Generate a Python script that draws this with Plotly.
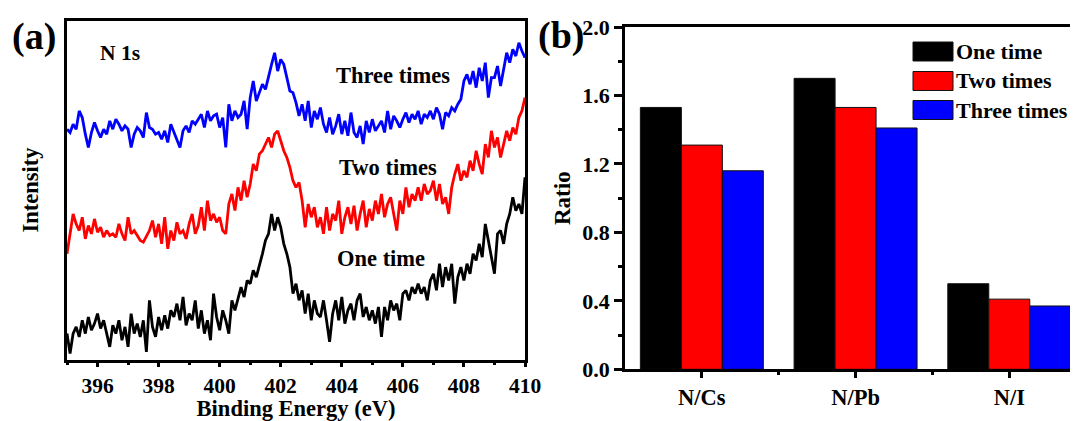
import plotly.graph_objects as go

# ---------------- Panel (a): N 1s XPS spectra ----------------
energy = [
    395.0, 395.1, 395.2, 395.3, 395.4, 395.5, 395.6, 395.7, 395.8, 395.9,
    396.0, 396.1, 396.2, 396.3, 396.4, 396.5, 396.6, 396.7, 396.8, 396.9,
    397.0, 397.1, 397.2, 397.3, 397.4, 397.5, 397.6, 397.7, 397.8, 397.9,
    398.0, 398.1, 398.2, 398.3, 398.4, 398.5, 398.6, 398.7, 398.8, 398.9,
    399.0, 399.1, 399.2, 399.3, 399.4, 399.5, 399.6, 399.7, 399.8, 399.9,
    400.0, 400.1, 400.2, 400.3, 400.4, 400.5, 400.6, 400.7, 400.8, 400.9,
    401.0, 401.1, 401.2, 401.3, 401.4, 401.5, 401.6, 401.7, 401.8, 401.9,
    402.0, 402.1, 402.2, 402.3, 402.4, 402.5, 402.6, 402.7, 402.8, 402.9,
    403.0, 403.1, 403.2, 403.3, 403.4, 403.5, 403.6, 403.7, 403.8, 403.9,
    404.0, 404.1, 404.2, 404.3, 404.4, 404.5, 404.6, 404.7, 404.8, 404.9,
    405.0, 405.1, 405.2, 405.3, 405.4, 405.5, 405.6, 405.7, 405.8, 405.9,
    406.0, 406.1, 406.2, 406.3, 406.4, 406.5, 406.6, 406.7, 406.8, 406.9,
    407.0, 407.1, 407.2, 407.3, 407.4, 407.5, 407.6, 407.7, 407.8, 407.9,
    408.0, 408.1, 408.2, 408.3, 408.4, 408.5, 408.6, 408.7, 408.8, 408.9,
    409.0, 409.1, 409.2, 409.3, 409.4, 409.5, 409.6, 409.7, 409.8, 409.9,
    410.0,
]

three_times = [
    693, 683, 708, 693, 748, 728, 678, 638, 683, 713,
    688, 668, 693, 678, 718, 693, 723, 708, 688, 703,
    693, 638, 678, 698, 688, 668, 743, 698, 693, 678,
    683, 663, 688, 653, 708, 683, 658, 638, 688, 703,
    683, 718, 708, 723, 738, 698, 748, 718, 733, 738,
    698, 728, 638, 768, 718, 748, 728, 738, 778, 693,
    788, 838, 778, 803, 828, 813, 853, 888, 923, 868,
    903, 888, 848, 808, 803, 773, 733, 768, 718, 778,
    698, 748, 723, 758, 708, 683, 728, 678, 703, 738,
    678, 718, 673, 743, 683, 668, 703, 648, 718, 683,
    723, 688, 703, 718, 683, 748, 693, 733, 718, 698,
    723, 743, 713, 738, 723, 748, 708, 738, 728, 748,
    723, 758, 738, 693, 743, 733, 758, 748, 768, 783,
    838, 858, 828, 868, 818, 878, 838, 893, 788, 848,
    848, 883, 823, 873, 923, 893, 933, 913, 953, 928,
    908,
]

two_times = [
    318, 378, 438, 408, 388, 428, 363, 403, 378, 423,
    383, 398, 368, 388, 373, 378, 368, 408, 378, 358,
    428, 378, 388, 373, 358, 353, 373, 388, 418, 368,
    408, 348, 428, 333, 388, 358, 413, 378, 388, 363,
    408, 438, 378, 403, 458, 388, 478, 418, 438, 413,
    428, 388, 378, 468, 498, 448, 518, 478, 538, 488,
    528, 588, 568, 618, 628, 648, 668, 638, 678, 688,
    658, 628, 608, 578, 538, 518, 533, 478, 398, 468,
    428, 458, 398, 428, 378, 458, 388, 438, 418, 478,
    378, 428, 458, 408, 463, 388, 438, 478, 398, 453,
    418, 478, 438, 498, 428, 468, 488, 438, 388, 478,
    438, 518, 458, 498, 478, 518, 478, 528, 498, 508,
    538, 478, 528, 468, 488, 438, 518, 558, 588, 538,
    568, 548, 598, 568, 628, 588, 558, 648, 608, 688,
    638, 668, 608, 648, 688, 658, 698, 678, 728, 748,
    788,
]

one_time = [
    78, 18, 78, 98, 68, 118, 78, 128, 88, 108,
    138, 93, 118, 78, 38, 103, 78, 118, 58, 98,
    38, 138, 78, 108, 68, 118, 23, 178, 98, 68,
    128, 88, 133, 93, 148, 128, 168, 118, 188, 103,
    138, 118, 178, 93, 148, 78, 118, 58, 198, 128,
    88, 148, 118, 78, 178, 148, 188, 218, 188, 238,
    228, 268, 248, 288, 318, 358, 378, 438, 388, 428,
    398, 348, 318, 278, 198, 228, 178, 208, 138, 198,
    118, 178, 138, 128, 178, 118, 53, 138, 178, 118,
    188, 108, 148, 168, 118, 178, 198, 128, 158, 118,
    148, 108, 158, 68, 158, 118, 178, 148, 168, 118,
    198, 208, 178, 218, 198, 228, 198, 218, 178, 238,
    258, 208, 288, 218, 278, 238, 288, 168, 248, 278,
    238, 288, 258, 318, 298, 348, 308, 408, 358, 318,
    258, 378, 388, 348, 408, 438, 488, 448, 468, 438,
    548,
]

# ---------------- Panel (b): N ratios ----------------
categories = ["N/Cs", "N/Pb", "N/I"]
ratio_one = [1.53, 1.70, 0.50]
ratio_two = [1.31, 1.53, 0.41]
ratio_three = [1.16, 1.41, 0.37]
series_names = ["One time", "Two times", "Three times"]
series_colors = ["#000000", "#FF0000", "#0000FF"]

FONT = "Liberation Serif, Times New Roman, serif"
# The page body adds an 8 px margin, so the figure is drawn 8 px smaller and
# every screen position below is converted to figure coordinates.
OFF = 8
W, H = 1078 - OFF, 421 - OFF


def px_x(p):
    return (p - OFF) / W


def px_y(p):
    return (H - (p - OFF)) / H


fig = go.Figure()

spectra = [(one_time, series_colors[0], "One time"),
           (two_times, series_colors[1], "Two times"),
           (three_times, series_colors[2], "Three times")]
for vals, col, nm in spectra:
    fig.add_trace(go.Scatter(x=energy, y=vals, mode="lines", name=nm,
                             line=dict(color=col, width=2.8),
                             xaxis="x", yaxis="y", showlegend=False))

cat_pos = list(range(len(categories)))
for vals, col, nm in zip([ratio_one, ratio_two, ratio_three], series_colors, series_names):
    fig.add_trace(go.Bar(x=cat_pos, y=vals, name=nm,
                         marker=dict(color=col, line=dict(color="#111111", width=1)),
                         xaxis="x2", yaxis="y2", showlegend=False))

axis_common = dict(showline=True, linecolor="black", linewidth=2.5, showgrid=False,
                   zeroline=False, automargin=False, color="black")

fig.update_layout(
    width=W, height=H,
    margin=dict(l=0, r=0, t=0, b=0),
    paper_bgcolor="white", plot_bgcolor="white",
    font=dict(family=FONT, color="black", weight="bold"),
    barmode="group", bargap=0.2, bargroupgap=0,
    xaxis=dict(**axis_common, domain=[px_x(67), px_x(525)], range=[395, 410],
               tick0=396, dtick=2, ticks="outside", ticklen=5, tickwidth=2.5,
               mirror=True, anchor="y",
               minor=dict(dtick=1, ticks="outside", ticklen=3, tickwidth=2.5, tickcolor="black"),
               tickfont=dict(size=21.5, family=FONT, weight="bold"),
               title=dict(text="Binding Energy (eV)", standoff=2,
                          font=dict(size=22.5, family=FONT, weight="bold"))),
    yaxis=dict(**axis_common, domain=[px_y(359.5), px_y(20.5)], range=[0, 1020],
               showticklabels=False, ticks="", mirror=True, anchor="x",
               title=dict(text="Intensity", standoff=20,
                          font=dict(size=22.5, family=FONT, weight="bold"))),
    xaxis2=dict(**axis_common, domain=[px_x(625), 1.0], range=[-0.5, 2.447],
                tickvals=cat_pos, ticktext=categories,
                ticks="outside", ticklen=6, tickwidth=2.5, mirror=True, anchor="y2",
                minor=dict(tickvals=[0.5, 1.5], ticks="outside", ticklen=3, tickwidth=2.5,
                           tickcolor="black"),
                tickfont=dict(size=22.5, family=FONT, weight="bold")),
    yaxis2=dict(**axis_common, domain=[px_y(369.3), px_y(27)], range=[0, 2.0],
                tick0=0, dtick=0.4, tickformat=".1f", ticks="outside", ticklen=8,
                tickwidth=2.5, mirror=False, anchor="x2",
                minor=dict(dtick=0.2, ticks="outside", ticklen=4, tickwidth=2.5, tickcolor="black"),
                tickfont=dict(size=22, family=FONT, weight="bold"),
                title=dict(text="Ratio", standoff=6,
                           font=dict(size=23, family=FONT, weight="bold"))),
)

annots = []
# Panel letters
annots.append(dict(text="(a)", x=px_x(34), y=px_y(37), xref="paper", yref="paper",
                   xanchor="center", yanchor="middle", showarrow=False,
                   font=dict(size=38, family=FONT, weight="bold")))
annots.append(dict(text="(b)", x=px_x(561), y=px_y(35), xref="paper", yref="paper",
                   xanchor="center", yanchor="middle", showarrow=False,
                   font=dict(size=38, family=FONT, weight="bold")))
# Panel (a) labels
for txt, xx, yy, fs in [("N 1s", 396.73, 923, 21.5), ("Three times", 405.68, 856, 22.5),
                        ("Two times", 405.5, 578, 22.5), ("One time", 405.3, 305, 22.5)]:
    annots.append(dict(text=txt, x=xx, y=yy, xref="x", yref="y", showarrow=False,
                       xanchor="center", yanchor="middle",
                       font=dict(size=fs, family=FONT, weight="bold")))

# Manual legend for panel (b)
shapes = []
legend_centers = [51.5, 81, 110]
for nm, col, cy in zip(series_names, series_colors, legend_centers):
    shapes.append(dict(type="rect", xref="paper", yref="paper",
                       x0=px_x(913), x1=px_x(953), y0=px_y(cy + 9.5), y1=px_y(cy - 9.5),
                       fillcolor=col, line=dict(color="#111111", width=1)))
    annots.append(dict(text=nm, x=px_x(954), y=px_y(cy), xref="paper", yref="paper",
                       xanchor="left", yanchor="middle", showarrow=False,
                       font=dict(size=22, family=FONT, weight="bold")))

fig.update_layout(annotations=annots, shapes=shapes)
fig.write_html("out.html")
